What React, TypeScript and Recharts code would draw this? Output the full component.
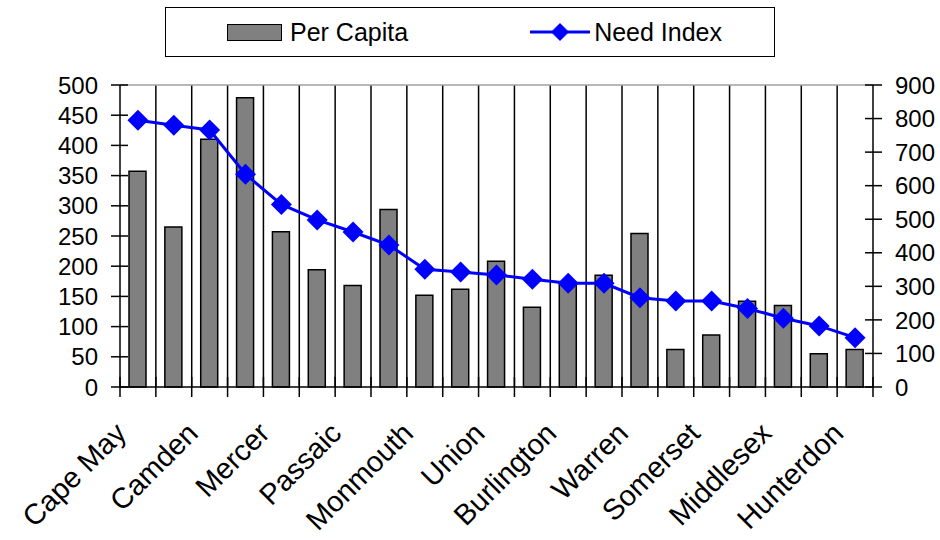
import React from "react";
import {
  ComposedChart,
  Bar,
  Line,
  XAxis,
  YAxis,
  CartesianGrid,
  ReferenceLine,
  Legend,
} from "recharts";

const COUNTIES = [
  "Cape May", "Cumberland", "Camden", "Essex", "Mercer", "Hudson", "Passaic",
  "Atlantic", "Monmouth", "Salem", "Union", "Ocean", "Burlington", "Gloucester",
  "Warren", "Sussex", "Somerset", "Bergen", "Middlesex", "Morris", "Hunterdon",
];
const PER_CAPITA = [357, 265, 410, 479, 257, 194, 168, 294, 152, 162, 208, 132, 171, 185, 254, 62, 86, 142, 135, 55, 62];
const NEED_INDEX = [795, 780, 766, 634, 544, 498, 462, 423, 351, 343, 334, 321, 309, 309, 266, 256, 256, 234, 205, 182, 147];
const LEFT_TICKS = [0, 50, 100, 150, 200, 250, 300, 350, 400, 450, 500];
const RIGHT_TICKS = [0, 100, 200, 300, 400, 500, 600, 700, 800, 900];

const data = COUNTIES.map((name, i) => ({
  name,
  perCapita: PER_CAPITA[i],
  needIndex: NEED_INDEX[i],
}));

const FONT = "'Liberation Sans', Arial, sans-serif";
const W = 940;
const H = 540;
const PLOT_LEFT = 120;
const PLOT_RIGHT = 873;
const PLOT_BOTTOM = 387;
const BAND = (PLOT_RIGHT - PLOT_LEFT) / COUNTIES.length;
const BLUE = "#0000ff";

function Diamond({ cx, cy, size = 10.5 }: { cx?: number; cy?: number; size?: number }) {
  if (cx == null || cy == null) return null;
  const r = size;
  return (
    <polygon
      points={`${cx},${cy - r} ${cx + r},${cy} ${cx},${cy + r} ${cx - r},${cy}`}
      fill={BLUE}
      stroke="none"
    />
  );
}

function CountyTick(props: any) {
  const { x, index, payload } = props;
  const y = PLOT_BOTTOM;
  const left = x - BAND / 2;
  const ax = x - 10;
  const ay = y + 48;
  return (
    <g>
      <line x1={left} x2={left} y1={y - 10} y2={y + 10} stroke="#000" strokeWidth={1.5} />
      {index === COUNTIES.length - 1 && (
        <line x1={x + BAND / 2} x2={x + BAND / 2} y1={y - 10} y2={y + 10} stroke="#000" strokeWidth={1.5} />
      )}
      {index % 2 === 0 && (
        <text
          x={ax}
          y={ay}
          textAnchor="end"
          transform={`rotate(-45 ${ax} ${ay})`}
          fontSize={29}
          fontFamily={FONT}
          fill="#000"
        >
          {payload.value}
        </text>
      )}
    </g>
  );
}

function LeftTick(props: any) {
  const { x, y, payload } = props;
  return (
    <g>
      <line x1={x - 9} x2={x + 8} y1={y} y2={y} stroke="#000" strokeWidth={1.5} />
      <text x={x - 22} y={y} dy="0.36em" textAnchor="end" fontSize={24} fontFamily={FONT} fill="#000">
        {payload.value}
      </text>
    </g>
  );
}

function RightTick(props: any) {
  const { x, y, payload } = props;
  return (
    <g>
      <line x1={x - 8} x2={x + 9} y1={y} y2={y} stroke="#000" strokeWidth={1.5} />
      <text x={x + 22} y={y} dy="0.36em" textAnchor="start" fontSize={24} fontFamily={FONT} fill="#000">
        {payload.value}
      </text>
    </g>
  );
}

function LegendBox() {
  return (
    <div
      style={{
        width: 610,
        height: 50,
        boxSizing: "border-box",
        border: "1.5px solid #000",
        background: "#fff",
        display: "flex",
        alignItems: "center",
        fontFamily: FONT,
        fontSize: 25,
        color: "#000",
      }}
    >
      <div style={{ display: "flex", alignItems: "center", marginLeft: 61 }}>
        <span
          style={{
            display: "inline-block",
            width: 55,
            height: 17,
            background: "#808080",
            border: "1.5px solid #000",
            boxSizing: "border-box",
            marginRight: 8,
          }}
        />
        Per Capita
      </div>
      <div style={{ display: "flex", alignItems: "center", marginLeft: 122 }}>
        <svg width={60} height={22} style={{ marginRight: 4 }}>
          <line x1={0} x2={60} y1={11} y2={11} stroke={BLUE} strokeWidth={3} />
          <Diamond cx={30} cy={11} size={9} />
        </svg>
        Need Index
      </div>
    </div>
  );
}

export default function App() {
  return (
    <div style={{ position: "fixed", left: 0, top: 0, width: W, height: H, background: "#fff" }}>
      <ComposedChart
        width={W}
        height={H}
        data={data}
        margin={{ top: 35, right: 0, bottom: 0, left: 0 }}
      >
        <Legend
          verticalAlign="top"
          content={<LegendBox />}
          wrapperStyle={{ top: 7, left: 165, width: 610, height: 50 }}
        />
        <CartesianGrid
          horizontal={false}
          stroke="#000"
          strokeWidth={1.5}
          verticalCoordinatesGenerator={({ offset }: any) =>
            COUNTIES.slice(1).map((_, i) => offset.left + ((i + 1) * offset.width) / COUNTIES.length)
          }
        />
        <XAxis
          dataKey="name"
          interval={0}
          height={H - PLOT_BOTTOM}
          tickSize={0}
          tickMargin={0}
          tickLine={false}
          axisLine={{ stroke: "#000", strokeWidth: 1.5 }}
          tick={<CountyTick />}
        />
        <YAxis
          yAxisId="left"
          orientation="left"
          width={PLOT_LEFT}
          domain={[0, 500]}
          ticks={LEFT_TICKS}
          interval={0}
          tickSize={0}
          tickMargin={0}
          tickLine={false}
          axisLine={{ stroke: "#000", strokeWidth: 1.5 }}
          tick={<LeftTick />}
        />
        <YAxis
          yAxisId="right"
          orientation="right"
          width={W - PLOT_RIGHT}
          domain={[0, 900]}
          ticks={RIGHT_TICKS}
          interval={0}
          tickSize={0}
          tickMargin={0}
          tickLine={false}
          axisLine={{ stroke: "#000", strokeWidth: 1.5 }}
          tick={<RightTick />}
        />
        <ReferenceLine yAxisId="left" y={500} stroke="#a0a0a0" strokeWidth={1.5} />
        <Bar
          yAxisId="left"
          dataKey="perCapita"
          name="Per Capita"
          barSize={17}
          fill="#808080"
          stroke="#000"
          strokeWidth={1.5}
          isAnimationActive={false}
        />
        <Line
          yAxisId="right"
          dataKey="needIndex"
          name="Need Index"
          type="linear"
          stroke={BLUE}
          strokeWidth={3}
          dot={(p: any) => <Diamond key={`d-${p.index}`} cx={p.cx} cy={p.cy} />}
          activeDot={false}
          isAnimationActive={false}
        />
      </ComposedChart>
    </div>
  );
}
